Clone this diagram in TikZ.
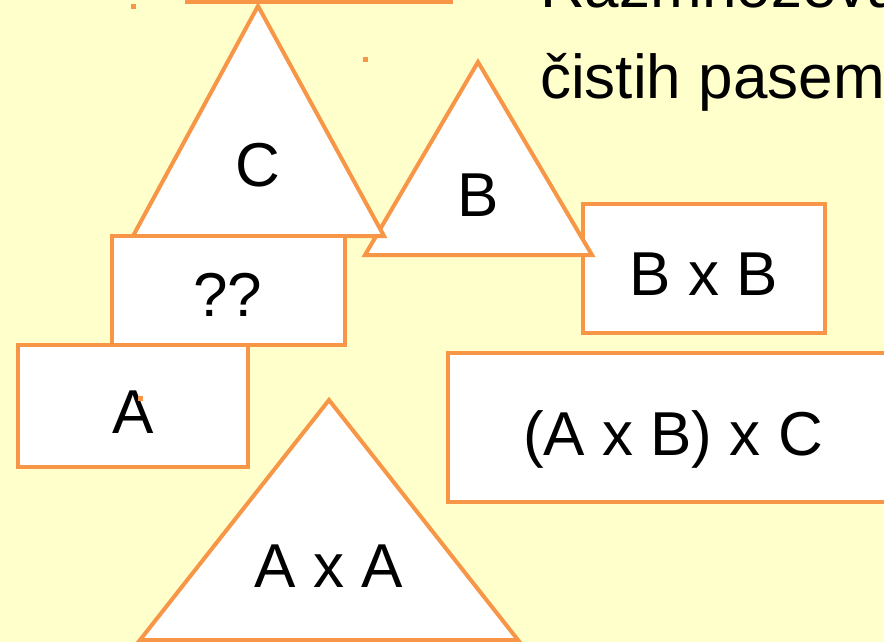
\documentclass[tikz,border=0pt]{standalone}
\usepackage{fontspec}
\setmainfont{Liberation Sans}
\definecolor{bgyellow}{RGB}{255,255,204}
\definecolor{shapeorange}{RGB}{247,150,70}
\begin{document}
\begin{tikzpicture}[x=1pt,y=-1pt,
  shp/.style={draw=shapeorange,fill=white,line width=4pt},
  lbl/.style={font=\fontsize{62}{74}\selectfont,text=black,anchor=base,inner sep=0pt},
  dot/.style={fill=shapeorange}]
\useasboundingbox (0,0) rectangle (884,642);
\fill[bgyellow] (0,0) rectangle (884,642);
\clip (0,0) rectangle (884,642);
% top box (only bottom edge visible)
\draw[shp] (187,-60) rectangle (451,2);
% title
\node[lbl,anchor=base west] (t1) at (540,8) {Razmnoževa};
\node[lbl,anchor=base west] (t2) at (540,99) {čistih pasem};
% boxes on the right
\draw[shp] (583,204) rectangle (825,333);
\draw[shp] (448,353) rectangle (900,502);
% triangles B and C
\draw[shp] (478,62) -- (592,255) -- (365,255) -- cycle;
\draw[shp] (258,6) -- (384,236) -- (133,236) -- cycle;
% boxes on the left
\draw[shp] (112,236) rectangle (345,345);
\draw[shp] (18,345) rectangle (248,467);
% triangle AxA
\draw[shp] (329,400) -- (518,640) -- (140,640) -- cycle;
% labels
\node[lbl] (c) at (258,186) {C};
\node[lbl] (b) at (478,216) {B};
\node[lbl] (q) at (228,316) {??};
\node[lbl] (a) at (133,433) {A};
\node[lbl] (bb) at (704,295) {B x B};
\node[lbl] (abc) at (673,455) {(A x B) x C};
\node[lbl] (aa) at (329,587) {A x A};
% small dots
\fill[dot] (131,4) rectangle (136,9);
\fill[dot] (363,57) rectangle (368,62);
\fill[dot] (138,396) rectangle (143,401);
\end{tikzpicture}
\end{document}
